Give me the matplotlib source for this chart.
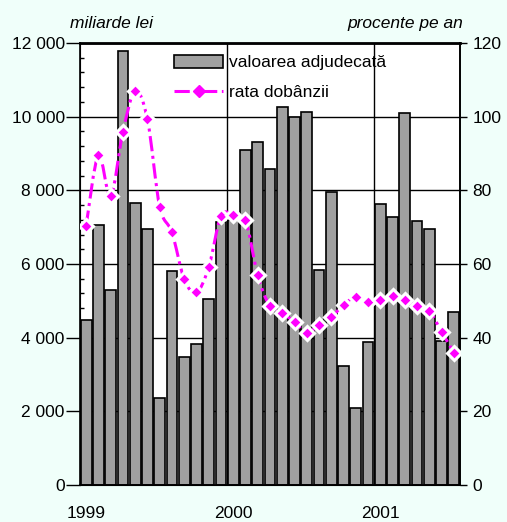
import matplotlib
matplotlib.use("Agg")
import matplotlib.pyplot as plt
import numpy as np
from matplotlib.lines import Line2D
from matplotlib.patches import Patch, PathPatch
from matplotlib.path import Path
from matplotlib.ticker import FuncFormatter, MultipleLocator

# monthly data, Jan 1999 - Jul 2001
valoarea = [4480, 7050, 5300, 11780, 7650, 6950, 2350, 5820, 3470, 3820, 5050, 7150,
            7200, 9090, 9300, 8580, 10270, 9980, 10130, 5830, 7960, 3220, 2100, 3880,
            7620, 7270, 10100, 7180, 6950, 3910, 4700]
rata = [70.4, 89.5, 78.4, 95.9, 107.0, 99.3, 75.6, 68.6, 55.9, 52.3, 59.1, 73.0,
        73.3, 71.9, 56.9, 48.5, 46.6, 44.3, 41.3, 43.5, 45.5, 49.0, 51.0, 49.6,
        50.2, 51.4, 50.1, 48.6, 47.2, 41.6, 35.9]
year_ticks = [0, 12, 24]
year_labels = ["1999", "2000", "2001"]

plt.rcParams["font.family"] = ["Liberation Sans", "DejaVu Sans"]
fs = 12.5
bg = "#f0fffa"
bar_color = "#a0a0a0"
magenta = "#ff00ff"
dash = (5, 1.5, 1, 1.5)

fig = plt.figure(figsize=(5.07, 5.22), dpi=100, facecolor=bg)
ax = fig.add_axes([80 / 507, 1 - 485 / 522, 380 / 507, 442 / 522])
ax.set_facecolor("white")

x = np.arange(len(valoarea))
ax.bar(x, valoarea, width=0.88, color=bar_color, edgecolor="black", linewidth=1.2, zorder=2)

ax.set_xlim(-0.5, len(valoarea) - 0.5)
ax.set_ylim(0, 12000)

# gridlines behind the bars
for v in range(2000, 12001, 2000):
    ax.axhline(v, color="black", lw=1.0, zorder=1)
for b in [11.5, 23.5]:
    ax.axvline(b, color="black", lw=1.0, zorder=1)

ax.set_xticks(year_ticks)
ax.set_xticklabels(year_labels, fontsize=fs)
ax.tick_params(axis="x", length=0, pad=15)

ax.yaxis.set_major_locator(MultipleLocator(2000))
ax.yaxis.set_minor_locator(MultipleLocator(400))
ax.yaxis.set_major_formatter(FuncFormatter(lambda v, p: f"{int(v):,}".replace(",", " ")))
ax.tick_params(axis="y", which="major", direction="out", length=10, width=1, pad=1, labelsize=fs)
ax.tick_params(axis="y", which="minor", direction="in", length=3, width=1)
for s in ["left", "bottom", "top", "right"]:
    ax.spines[s].set_linewidth(1.2)
ax.spines["top"].set_linewidth(2)

ax2 = ax.twinx()
ax2.set_ylim(0, 120)
ax2.yaxis.set_major_locator(MultipleLocator(20))
ax2.tick_params(axis="y", direction="out", length=5, width=1, pad=4, labelsize=fs)
ax2.spines["right"].set_linewidth(1.2)

# smoothed line (Bezier through the points, like Excel's smoothed line)
pts = np.column_stack([x, rata]).astype(float)
ext = np.vstack([pts[0], pts, pts[-1]])
verts = [pts[0]]
codes = [Path.MOVETO]
for i in range(len(pts) - 1):
    c1 = pts[i] + (ext[i + 2] - ext[i]) / 6
    c2 = pts[i + 1] - (ext[i + 3] - ext[i + 1]) / 6
    verts += [c1, c2, pts[i + 1]]
    codes += [Path.CURVE4] * 3
curve = PathPatch(Path(verts, codes), fill=False, edgecolor=magenta, lw=2.2,
                  linestyle=(0, dash), zorder=3)
ax2.add_patch(curve)
ax2.plot(x, rata, ls="none", marker="D", ms=7, mfc=magenta, mec="white", mew=2.2, zorder=4)

fig.text(70 / 507, 1 - 24 / 522, "miliarde lei", fontsize=fs, style="italic", va="center", ha="left")
fig.text(463 / 507, 1 - 24 / 522, "procente pe an", fontsize=fs, style="italic", va="center", ha="right")

handles = [Patch(facecolor=bar_color, edgecolor="black", linewidth=1.2),
           Line2D([], [], color=magenta, lw=2.2, dashes=dash, marker="D", ms=6)]
ax2.legend(handles, ["valoarea adjudecată", "rata dobânzii"], loc="upper left",
           bbox_to_anchor=(174 / 507, 1 - 55 / 522), bbox_transform=fig.transFigure,
           frameon=False, fontsize=fs, borderpad=0, handlelength=2.85, handleheight=0.75,
           handletextpad=0.3, labelspacing=0.8, borderaxespad=0)

fig.savefig("out.png", dpi=100, facecolor=bg)
